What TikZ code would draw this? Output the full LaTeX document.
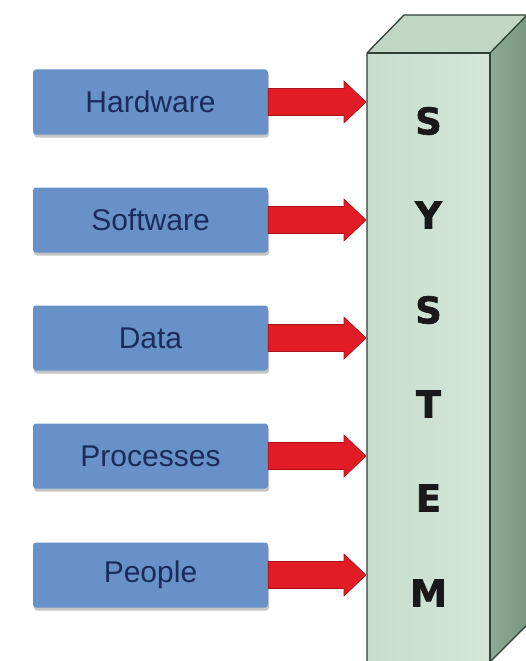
\documentclass[tikz,border=0pt]{standalone}
\usepackage{fontspec}
\setmainfont{Liberation Sans}
\newfontfamily\heavyfont{DejaVu Sans Bold}[FakeBold=1.6]
\usetikzlibrary{shadows,calc}

\definecolor{boxblue}{RGB}{104,145,200}
\definecolor{boxtext}{RGB}{26,44,92}
\definecolor{arrowred}{RGB}{226,28,36}
\definecolor{arrowdark}{RGB}{170,16,24}
\definecolor{frontgreen}{RGB}{198,221,205}
\definecolor{frontlight}{RGB}{212,231,217}
\definecolor{topgreen}{RGB}{192,215,198}
\definecolor{sidegreen}{RGB}{140,170,150}
\definecolor{sidedark}{RGB}{120,150,130}
\definecolor{edgegreen}{RGB}{48,64,54}

\tikzset{
  inputbox/.style={
    rectangle, rounded corners=3pt, fill=boxblue,
    minimum width=235pt, minimum height=65pt, inner sep=0pt,
    text=boxtext, font=\fontsize{30}{30}\selectfont,
    drop shadow={shadow xshift=1pt, shadow yshift=-3pt, opacity=0.45}
  },
  letter/.style={
    font=\heavyfont\fontsize{37}{37}\selectfont,
    text=black!90, inner sep=0pt
  },
  arrowbody/.style={fill=arrowred, draw=arrowdark, line width=0.6pt, line join=miter},
  prismedge/.style={draw=edgegreen, line width=1.3pt, line join=round}
}

% red block arrow from a box's east side to a target point
\newcommand{\feedarrow}[2]{%
  \path[arrowbody]
    ($(#1.east)+(0,-13.5)$) -- ($(#2)+(-22,-13.5)$) -- ($(#2)+(-22,-21)$) --
    (#2) --
    ($(#2)+(-22,21)$) -- ($(#2)+(-22,13.5)$) -- ($(#1.east)+(0,13.5)$) -- cycle;
}

\begin{document}
\begin{tikzpicture}[x=1pt, y=-1pt]
  \useasboundingbox (0,0) rectangle (526,661);
  \fill[white] (0,0) rectangle (526,661);

  % the system column: front, top and side faces
  \coordinate (ftl) at (367,53);
  \coordinate (ftr) at (490,53);
  \coordinate (fbl) at (367,662);
  \coordinate (fbr) at (490,662);
  \coordinate (btl) at (404,15);
  \coordinate (btr) at (527,15);
  \coordinate (bbr) at (527,625);

  \shade[left color=frontgreen, right color=frontlight] (ftl) rectangle (fbr);
  \fill[topgreen] (ftl) -- (btl) -- (btr) -- (ftr) -- cycle;
  \shade[left color=sidegreen, right color=sidedark] (ftr) -- (btr) -- (bbr) -- (fbr) -- cycle;
  \draw[prismedge] (fbl) -- (ftl) -- (btl) -- (btr) -- (bbr) -- (fbr);
  \draw[prismedge] (ftl) -- (ftr) -- (fbr);
  \draw[prismedge] (ftr) -- (btr);

  % letters on the front face
  \node[letter] (l1) at (428.5,121) {S};
  \node[letter] (l2) at (428.5,215) {Y};
  \node[letter] (l3) at (428.5,310) {S};
  \node[letter] (l4) at (428.5,404) {T};
  \node[letter] (l5) at (428.5,498) {E};
  \node[letter] (l6) at (428.5,593) {M};

  % input boxes
  \node[inputbox] (hw) at (150.5,102) {Hardware};
  \node[inputbox] (sw) at (150.5,220) {Software};
  \node[inputbox] (dt) at (150.5,338) {Data};
  \node[inputbox] (pr) at (150.5,456) {Processes};
  \node[inputbox] (pp) at (150.5,575) {People};

  % arrow tips on the column face
  \coordinate (thw) at (366,102);
  \coordinate (tsw) at (366,220);
  \coordinate (tdt) at (366,338);
  \coordinate (tpr) at (366,456);
  \coordinate (tpp) at (366,575);

  \feedarrow{hw}{thw}
  \feedarrow{sw}{tsw}
  \feedarrow{dt}{tdt}
  \feedarrow{pr}{tpr}
  \feedarrow{pp}{tpp}
\end{tikzpicture}
\end{document}
